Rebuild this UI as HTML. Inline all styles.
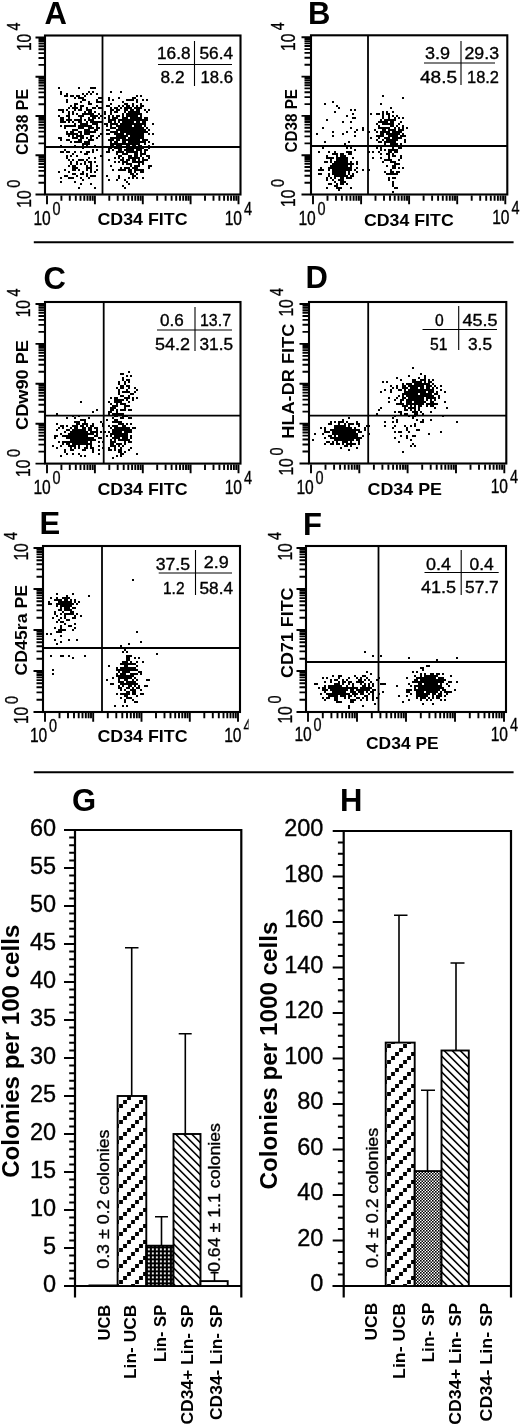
<!DOCTYPE html>
<html><head><meta charset="utf-8"><title>Figure</title>
<style>html,body{margin:0;padding:0;background:#fff}svg{display:block}</style>
</head><body>
<svg width="520" height="1427" viewBox="0 0 520 1427" font-family="Liberation Sans, sans-serif" fill="#000">
<rect width="520" height="1427" fill="#fff"/>
<defs>
<clipPath id="clipE"><rect x="240" y="700" width="8.6" height="29.6"/></clipPath>
<filter id="soft" x="0" y="0" width="100%" height="100%" filterUnits="userSpaceOnUse"><feGaussianBlur stdDeviation="0.35"/></filter>
<pattern id="p1" width="16" height="16" patternUnits="userSpaceOnUse"><rect width="16" height="16" fill="#fff"/><path d="M7.1 0.1h3.8v3.8h-3.8zM11.1 12.1h3.8v3.8h-3.8zM-0.9 8.1h3.8v3.8h-3.8zM15.1 8.1h3.8v3.8h-3.8zM3.1 4.1h3.8v3.8h-3.8z" fill="#000"/></pattern>
<pattern id="p2" width="8" height="8" patternUnits="userSpaceOnUse"><rect width="8" height="8" fill="#fff"/><path d="M-1 5.4L3 9.4M.6 -1L9 7.4" stroke="#000" stroke-width="1.6"/></pattern>
<pattern id="p3" x="3.9" y=".4" width="4" height="4" patternUnits="userSpaceOnUse"><rect width="4" height="4" fill="#000"/><rect width="1.9" height="1.9" fill="#fff"/></pattern>
<pattern id="p4" width="3" height="3" patternUnits="userSpaceOnUse"><rect width="3" height="3" fill="#fff"/><rect width="1.6" height="1.6" fill="#000"/><rect x="1.5" y="1.5" width="1.6" height="1.6" fill="#000"/></pattern>
</defs>
<g filter="url(#soft)">
<rect x="45" y="35.5" width="195.5" height="159.0" fill="none" stroke="#000" stroke-width="2.1"/>
<path d="M102.5 35.5L102.5 194.5" stroke="#000" stroke-width="1.8" fill="none"/>
<path d="M45 147L240.5 147" stroke="#000" stroke-width="1.8" fill="none"/>
<path d="M47.0 195.5v8.7M61.4 195.5v5.3M69.8 195.5v5.3M75.8 195.5v5.3M80.5 195.5v5.3M84.3 195.5v5.3M87.5 195.5v5.3M90.2 195.5v5.3M92.7 195.5v5.3M94.9 195.5v8.7M109.3 195.5v5.3M117.7 195.5v5.3M123.7 195.5v5.3M128.3 195.5v5.3M132.1 195.5v5.3M135.3 195.5v5.3M138.1 195.5v5.3M140.6 195.5v5.3M142.8 195.5v8.7M157.2 195.5v5.3M165.6 195.5v5.3M171.6 195.5v5.3M176.2 195.5v5.3M180.0 195.5v5.3M183.2 195.5v5.3M186.0 195.5v5.3M188.4 195.5v5.3M190.6 195.5v8.7M205.0 195.5v5.3M213.5 195.5v5.3M219.4 195.5v5.3M224.1 195.5v5.3M227.9 195.5v5.3M231.1 195.5v5.3M233.9 195.5v5.3M236.3 195.5v5.3M238.5 195.5v8.7" stroke="#000" stroke-width="1.9" fill="none"/>
<path d="M44.5 194.5h-9M44.5 182.7h-6M44.5 175.8h-6M44.5 170.9h-6M44.5 167.1h-6M44.5 164.0h-6M44.5 161.3h-6M44.5 159.1h-6M44.5 157.0h-6M44.5 155.2h-9M44.5 143.4h-6M44.5 136.5h-6M44.5 131.6h-6M44.5 127.8h-6M44.5 124.7h-6M44.5 122.1h-6M44.5 119.8h-6M44.5 117.8h-6M44.5 116.0h-9M44.5 104.2h-6M44.5 97.3h-6M44.5 92.4h-6M44.5 88.6h-6M44.5 85.5h-6M44.5 82.8h-6M44.5 80.6h-6M44.5 78.5h-6M44.5 76.8h-9M44.5 64.9h-6M44.5 58.0h-6M44.5 53.1h-6M44.5 49.3h-6M44.5 46.2h-6M44.5 43.6h-6M44.5 41.3h-6M44.5 39.3h-6M44.5 37.5h-9" stroke="#000" stroke-width="1.9" fill="none"/>
<text x="44.5" y="23.7" font-size="31" font-weight="700">A</text>
<text x="97.5" y="224.5" font-size="17" font-weight="700" textLength="90.0" lengthAdjust="spacingAndGlyphs">CD34 FITC</text>
<text transform="translate(33.4,225.0) scale(.8,1)" font-size="19.5" stroke="#000" stroke-width=".35">10</text>
<g><text transform="translate(52.4,215.0) scale(.78,1)" font-size="18.5" stroke="#000" stroke-width=".35">0</text></g>
<text transform="translate(224.7,224.6) scale(.8,1)" font-size="19.5" stroke="#000" stroke-width=".35">10</text>
<g><text transform="translate(243.9,214.6) scale(.78,1)" font-size="18.5" stroke="#000" stroke-width=".35">4</text></g>
<text transform="translate(27.5,155) rotate(-90)" font-size="17" font-weight="700" textLength="66" lengthAdjust="spacingAndGlyphs">CD38 PE</text>
<text transform="translate(30.6,207.7) rotate(-90) scale(.8,1)" font-size="19.5" stroke="#000" stroke-width=".35">10</text>
<text transform="translate(20.3,187.7) rotate(-90) scale(.78,1)" font-size="18.5" stroke="#000" stroke-width=".35">0</text>
<text transform="translate(30.6,51.1) rotate(-90) scale(.8,1)" font-size="19.5" stroke="#000" stroke-width=".35">10</text>
<text transform="translate(20.3,30.4) rotate(-90) scale(.78,1)" font-size="18.5" stroke="#000" stroke-width=".35">4</text>
<path d="M194.5 41L194.5 86" stroke="#000" stroke-width="1.1" fill="none"/>
<path d="M158 64.5L232 64.5" stroke="#000" stroke-width="1.1" fill="none"/>
<text x="157" y="58.8" font-size="16" stroke="#000" stroke-width="0.35" textLength="33.5" lengthAdjust="spacingAndGlyphs">16.8</text>
<text x="199.5" y="58.8" font-size="16" stroke="#000" stroke-width="0.35" textLength="33.5" lengthAdjust="spacingAndGlyphs">56.4</text>
<text x="160.5" y="82.5" font-size="16" stroke="#000" stroke-width="0.35" textLength="24.0" lengthAdjust="spacingAndGlyphs">8.2</text>
<text x="200.5" y="82.5" font-size="16" stroke="#000" stroke-width="0.35" textLength="32.5" lengthAdjust="spacingAndGlyphs">18.6</text>
<path d="M78 132h2M78 116h2M68 118h2M96 130h2M96 126h2M86 126h2M58 138h2M88 132h2M58 88h2M68 114h2M86 122h2M88 110h2M86 130h2M72 154h2M88 144h2M72 108h2M76 120h2M90 126h2M74 104h2M74 146h2M70 126h2M86 94h2M82 146h2M80 106h2M88 120h2M60 138h2M90 140h2M82 98h2M90 110h2M74 98h2M68 112h2M60 126h2M86 108h2M66 140h2M96 124h2M84 130h2M60 146h2M94 132h2M92 88h2M78 142h2M62 152h2M86 134h2M82 144h2M72 114h2M96 122h2M68 140h2M62 120h2M100 102h2M98 98h2M70 134h2M96 138h2M86 124h2M84 132h2M78 128h2M90 122h2M92 132h2M76 114h2M80 140h2M76 130h2M66 126h2M74 134h2M84 112h2M74 120h2M78 120h2M96 100h2M92 150h2M58 116h2M76 134h2M96 94h2M90 94h2M84 144h2M78 126h2M92 124h2M80 152h2M96 116h2M94 116h2M82 136h2M84 134h2M60 94h2M90 104h2M66 94h2M98 136h2M82 100h2M92 152h2M68 152h2M94 118h2M80 110h2M96 150h2M70 142h2M82 124h2M100 116h2M86 110h2M80 138h2M82 148h2M80 142h2M72 138h2M64 122h2M78 122h2M72 126h2M88 142h2M78 98h2M74 142h2M58 110h2M82 138h2M84 100h2M60 110h2M94 112h2M68 108h2M60 120h2M64 128h2M92 116h2M86 114h2M92 136h2M90 128h2M100 134h2M94 146h2M88 168h2M68 136h2M88 140h2M68 120h2M86 138h2M80 118h2M66 116h2M94 124h2M70 106h2M90 132h2M80 132h2M100 156h2M62 110h2M76 104h2M64 96h2M68 126h2M70 120h2M88 130h2M76 136h2M82 106h2M72 122h2M80 124h2M80 126h2M80 98h2M86 142h2M88 118h2M88 104h2M66 152h2M76 96h2M70 132h2M88 126h2M80 134h2M96 102h2M78 136h2M76 142h2M78 170h2M98 118h2M82 172h2M76 138h2M94 122h2M64 126h2M86 144h2M92 122h2M84 124h2M66 110h2M82 94h2M72 132h2M78 96h2M96 106h2M78 88h2M92 140h2M90 88h2M72 96h2M82 126h2M90 136h2M62 112h2M66 102h2M80 122h2M88 92h2M80 108h2M68 122h2M84 96h2M88 134h2M92 128h2M70 96h2M76 108h2M66 120h2M74 124h2M88 114h2M90 166h2M86 146h2M88 102h2M98 102h2M84 162h2M98 122h2M70 156h2M84 114h2M100 108h2M90 112h2M72 136h2M100 122h2M80 128h2M74 166h2M100 98h2M60 92h2M98 114h2M80 116h2M80 102h2M74 152h2M92 120h2M74 108h2M68 116h2M86 132h2M88 162h2M74 126h2M66 134h2M72 134h2M62 122h2M88 112h2M80 136h2M68 134h2M84 120h2M94 108h2M94 88h2M88 128h2M60 118h2M66 96h2M84 164h2M74 110h2M66 100h2M62 118h2M74 130h2M80 120h2M92 108h2M60 122h2M72 130h2M74 138h2M78 110h2M92 118h2M86 154h2M72 166h2M84 142h2M90 138h2M90 172h2M84 126h2M94 130h2M92 114h2M94 162h2M74 106h2M78 140h2M90 120h2M64 150h2M96 128h2M60 152h2M60 140h2M82 116h2M90 114h2M98 108h2M66 132h2M90 116h2M92 92h2M72 112h2M82 114h2M88 152h2M82 128h2M98 128h2M64 170h2M80 174h2M92 176h2M76 156h2M82 180h2M66 156h2M76 162h2M86 160h2M70 164h2M80 160h2M80 178h2M94 188h2M70 162h2M72 168h2M86 152h2M86 168h2M58 172h2M90 170h2M86 174h2M96 166h2M90 164h2M88 158h2M78 188h2M86 166h2M66 158h2M80 184h2M90 168h2M76 176h2M84 154h2M86 170h2M68 178h2M76 164h2M90 184h2M72 174h2M74 182h2M72 178h2M74 174h2M78 160h2M60 178h2M60 182h2M74 170h2M96 170h2M94 176h2M70 178h2M86 176h2M90 176h2M82 174h2M76 168h2M90 162h2M94 158h2M82 160h2M68 166h2M94 172h2M80 164h2M68 160h2M72 160h2M66 176h2M64 176h2M68 172h2M72 170h2M74 168h2M88 178h2M132 128h2M132 112h2M132 132h2M128 132h2M136 130h2M146 100h2M132 110h2M138 164h2M118 134h2M136 128h2M136 106h2M138 136h2M134 124h2M136 126h2M134 126h2M120 132h2M134 142h2M136 134h2M140 156h2M128 108h2M138 150h2M138 142h2M130 124h2M138 122h2M122 120h2M148 156h2M128 124h2M140 132h2M126 148h2M130 134h2M122 106h2M126 122h2M120 130h2M136 138h2M132 130h2M138 132h2M138 138h2M134 148h2M130 128h2M128 122h2M142 154h2M134 138h2M140 142h2M140 116h2M130 138h2M142 134h2M128 128h2M130 122h2M142 124h2M134 158h2M140 136h2M130 136h2M142 140h2M140 134h2M136 148h2M124 132h2M132 142h2M146 140h2M134 114h2M144 132h2M132 118h2M134 136h2M128 150h2M130 110h2M132 122h2M126 128h2M134 118h2M132 150h2M138 130h2M134 130h2M132 140h2M132 104h2M136 124h2M126 118h2M124 104h2M122 136h2M124 140h2M144 144h2M134 134h2M144 150h2M132 138h2M134 132h2M130 116h2M130 114h2M140 138h2M138 110h2M144 142h2M146 118h2M140 114h2M126 116h2M136 136h2M130 144h2M138 134h2M130 140h2M140 128h2M138 118h2M128 148h2M128 130h2M134 128h2M134 98h2M122 134h2M136 144h2M126 150h2M132 160h2M130 118h2M142 142h2M130 112h2M128 138h2M138 124h2M124 150h2M134 146h2M124 128h2M140 152h2M128 116h2M134 116h2M130 132h2M142 128h2M146 150h2M138 140h2M144 130h2M132 120h2M132 134h2M124 144h2M138 144h2M138 126h2M124 124h2M130 108h2M130 148h2M130 126h2M126 108h2M134 120h2M116 134h2M140 126h2M124 130h2M136 120h2M120 148h2M136 150h2M126 144h2M146 156h2M132 136h2M132 144h2M134 152h2M136 154h2M140 148h2M136 116h2M126 134h2M136 162h2M128 146h2M138 112h2M128 134h2M130 130h2M136 122h2M142 132h2M126 140h2M144 122h2M144 140h2M142 120h2M140 150h2M148 134h2M140 154h2M124 118h2M126 110h2M136 110h2M122 142h2M126 132h2M122 126h2M126 136h2M128 112h2M128 140h2M128 120h2M128 106h2M124 162h2M132 116h2M126 152h2M128 142h2M122 128h2M134 144h2M116 130h2M126 114h2M130 142h2M142 136h2M136 132h2M140 124h2M128 114h2M126 120h2M132 124h2M130 120h2M138 114h2M124 110h2M136 118h2M122 116h2M140 130h2M144 154h2M142 138h2M120 138h2M132 162h2M130 150h2M128 144h2M124 138h2M126 146h2M120 128h2M122 102h2M120 156h2M148 130h2M120 124h2M108 150h2M116 154h2M110 112h2M116 146h2M136 100h2M148 142h2M140 108h2M118 98h2M110 124h2M134 162h2M116 118h2M128 164h2M132 114h2M144 152h2M108 116h2M138 120h2M114 138h2M134 160h2M120 152h2M118 146h2M144 124h2M108 122h2M148 166h2M128 158h2M112 100h2M122 118h2M122 138h2M146 112h2M132 106h2M110 92h2M124 120h2M114 118h2M152 144h2M132 176h2M142 106h2M148 158h2M136 112h2M118 138h2M124 126h2M124 112h2M142 162h2M132 146h2M118 170h2M150 166h2M148 148h2M120 136h2M106 176h2M152 134h2M136 142h2M132 152h2M122 130h2M118 120h2M116 116h2M134 112h2M140 104h2M136 166h2M124 142h2M118 152h2M116 142h2M136 102h2M120 160h2M116 132h2M128 168h2M116 124h2M126 126h2M110 114h2M136 152h2M140 96h2M120 146h2M108 160h2M136 96h2M152 124h2M128 152h2M122 122h2M146 128h2M122 124h2M124 122h2M104 124h2M122 158h2M126 154h2M122 132h2M140 146h2M136 114h2M114 122h2M116 140h2M120 120h2M130 156h2M118 150h2M116 126h2M122 186h2M122 164h2M112 144h2M144 126h2M118 156h2M112 110h2M126 104h2M118 126h2M132 98h2M118 148h2M122 144h2M132 100h2M132 148h2M140 106h2M108 152h2M144 120h2M112 170h2M122 114h2M108 118h2M114 144h2M110 128h2M140 118h2M118 116h2M108 180h2M126 130h2M112 150h2M122 160h2M114 134h2M126 160h2M128 126h2M134 140h2M108 130h2M114 112h2M120 126h2M118 140h2M148 146h2M104 112h2M146 120h2M120 170h2M106 106h2M120 168h2M110 138h2M118 130h2M142 158h2M138 158h2M110 146h2M118 158h2M110 166h2M134 176h2M120 134h2M140 120h2M114 132h2M126 164h2M116 152h2M138 166h2M138 148h2M120 150h2M144 118h2M144 110h2M114 148h2M146 160h2M126 106h2M138 108h2M134 172h2M128 100h2M138 128h2M142 122h2M126 100h2M116 144h2M128 156h2M142 130h2M122 140h2M124 108h2M122 170h2M118 162h2M112 124h2M136 158h2M118 122h2M130 100h2M136 140h2M124 136h2M122 152h2M146 132h2M142 148h2M110 104h2M142 100h2M138 162h2M136 108h2M114 158h2M114 124h2M134 108h2M148 110h2M126 124h2M114 108h2M110 148h2M106 124h2M110 140h2M108 100h2M114 120h2M110 142h2M108 120h2M112 132h2M120 92h2M112 120h2M108 106h2M110 144h2M106 152h2M110 110h2M118 136h2M108 140h2M106 134h2M116 112h2M106 126h2M112 146h2M116 138h2M110 122h2M104 118h2M112 118h2M120 144h2M110 132h2M112 116h2M112 140h2M118 128h2M112 138h2M110 108h2M118 110h2M116 110h2M120 108h2M116 148h2M108 148h2M108 98h2M116 136h2M110 120h2M114 142h2M116 108h2M112 128h2M118 144h2M110 126h2M106 130h2M108 134h2M114 128h2M104 114h2M118 106h2M124 154h2M128 172h2M144 160h2M128 184h2M138 170h2M124 168h2M132 174h2M130 170h2M148 168h2M124 170h2M126 162h2M134 170h2M130 174h2M130 152h2M142 160h2M136 170h2M124 180h2M118 176h2M140 172h2M138 160h2M132 168h2M136 174h2M130 158h2M128 170h2M128 160h2M130 164h2M138 146h2M130 172h2M136 178h2M126 182h2M140 170h2M142 170h2M128 178h2M130 166h2M134 166h2M122 154h2M136 156h2M122 162h2M132 158h2M134 156h2M126 168h2M114 162h2M136 168h2M140 162h2M134 168h2M142 164h2M134 154h2M124 188h2M142 178h2M142 172h2M118 178h2M116 180h2M132 178h2" stroke="#000" stroke-width="2" fill="none"/>
<rect x="311" y="35.3" width="196.3" height="159.2" fill="none" stroke="#000" stroke-width="2.1"/>
<path d="M368 35.3L368 194.5" stroke="#000" stroke-width="1.8" fill="none"/>
<path d="M311 146L507.3 146" stroke="#000" stroke-width="1.8" fill="none"/>
<path d="M313.0 195.5v8.7M327.5 195.5v5.3M335.9 195.5v5.3M341.9 195.5v5.3M346.6 195.5v5.3M350.4 195.5v5.3M353.6 195.5v5.3M356.4 195.5v5.3M358.9 195.5v5.3M361.1 195.5v8.7M375.5 195.5v5.3M384.0 195.5v5.3M390.0 195.5v5.3M394.7 195.5v5.3M398.5 195.5v5.3M401.7 195.5v5.3M404.5 195.5v5.3M407.0 195.5v5.3M409.1 195.5v8.7M423.6 195.5v5.3M432.1 195.5v5.3M438.1 195.5v5.3M442.8 195.5v5.3M446.6 195.5v5.3M449.8 195.5v5.3M452.6 195.5v5.3M455.0 195.5v5.3M457.2 195.5v8.7M471.7 195.5v5.3M480.2 195.5v5.3M486.2 195.5v5.3M490.8 195.5v5.3M494.6 195.5v5.3M497.9 195.5v5.3M500.6 195.5v5.3M503.1 195.5v5.3M505.3 195.5v8.7" stroke="#000" stroke-width="1.9" fill="none"/>
<path d="M310.5 194.5h-9M310.5 182.7h-6M310.5 175.7h-6M310.5 170.8h-6M310.5 167.0h-6M310.5 163.9h-6M310.5 161.3h-6M310.5 159.0h-6M310.5 157.0h-6M310.5 155.2h-9M310.5 143.4h-6M310.5 136.4h-6M310.5 131.5h-6M310.5 127.7h-6M310.5 124.6h-6M310.5 122.0h-6M310.5 119.7h-6M310.5 117.7h-6M310.5 115.9h-9M310.5 104.1h-6M310.5 97.1h-6M310.5 92.2h-6M310.5 88.4h-6M310.5 85.3h-6M310.5 82.7h-6M310.5 80.4h-6M310.5 78.4h-6M310.5 76.6h-9M310.5 64.8h-6M310.5 57.8h-6M310.5 52.9h-6M310.5 49.1h-6M310.5 46.0h-6M310.5 43.4h-6M310.5 41.1h-6M310.5 39.1h-6M310.5 37.3h-9" stroke="#000" stroke-width="1.9" fill="none"/>
<text x="308" y="23.7" font-size="31" font-weight="700">B</text>
<text x="364" y="226" font-size="17" font-weight="700" textLength="89.69999999999999" lengthAdjust="spacingAndGlyphs">CD34 FITC</text>
<text transform="translate(298.4,224.5) scale(.8,1)" font-size="19.5" stroke="#000" stroke-width=".35">10</text>
<g><text transform="translate(317.4,214.5) scale(.78,1)" font-size="18.5" stroke="#000" stroke-width=".35">0</text></g>
<text transform="translate(492.2,224.4) scale(.8,1)" font-size="19.5" stroke="#000" stroke-width=".35">10</text>
<g><text transform="translate(511.4,214.4) scale(.78,1)" font-size="18.5" stroke="#000" stroke-width=".35">4</text></g>
<text transform="translate(296.5,152.5) rotate(-90)" font-size="17" font-weight="700" textLength="63.5" lengthAdjust="spacingAndGlyphs">CD38 PE</text>
<text transform="translate(294.6,207.0) rotate(-90) scale(.8,1)" font-size="19.5" stroke="#000" stroke-width=".35">10</text>
<text transform="translate(284.3,187.0) rotate(-90) scale(.78,1)" font-size="18.5" stroke="#000" stroke-width=".35">0</text>
<text transform="translate(294.6,50.9) rotate(-90) scale(.8,1)" font-size="19.5" stroke="#000" stroke-width=".35">10</text>
<text transform="translate(284.3,30.2) rotate(-90) scale(.78,1)" font-size="18.5" stroke="#000" stroke-width=".35">4</text>
<path d="M461 41L461 85" stroke="#000" stroke-width="1.1" fill="none"/>
<path d="M424 63L495 63" stroke="#000" stroke-width="1.1" fill="none"/>
<text x="425" y="58.8" font-size="16" stroke="#000" stroke-width="0.35" textLength="25" lengthAdjust="spacingAndGlyphs">3.9</text>
<text x="464.5" y="58.8" font-size="16" stroke="#000" stroke-width="0.35" textLength="34.5" lengthAdjust="spacingAndGlyphs">29.3</text>
<text x="420" y="82.5" font-size="16" stroke="#000" stroke-width="0.35" textLength="37" lengthAdjust="spacingAndGlyphs">48.5</text>
<text x="467" y="82.5" font-size="16" stroke="#000" stroke-width="0.35" textLength="32" lengthAdjust="spacingAndGlyphs">18.2</text>
<path d="M334 186h2M340 174h2M344 176h2M342 164h2M340 156h2M338 172h2M328 168h2M342 174h2M334 164h2M330 162h2M342 180h2M334 176h2M350 152h2M338 168h2M350 178h2M350 168h2M344 174h2M342 170h2M338 164h2M334 178h2M336 154h2M340 166h2M340 178h2M338 166h2M336 166h2M336 168h2M354 170h2M344 172h2M342 172h2M342 176h2M336 172h2M344 164h2M342 182h2M346 160h2M338 170h2M344 168h2M334 172h2M336 158h2M332 164h2M334 152h2M344 160h2M336 170h2M328 174h2M330 158h2M338 176h2M340 170h2M344 158h2M338 162h2M336 160h2M334 182h2M348 168h2M342 162h2M326 156h2M340 176h2M332 166h2M334 162h2M338 180h2M332 168h2M334 166h2M340 162h2M332 170h2M344 156h2M332 174h2M340 164h2M340 160h2M326 180h2M338 160h2M330 168h2M336 162h2M342 168h2M332 158h2M340 158h2M334 170h2M332 172h2M342 166h2M346 166h2M334 174h2M346 162h2M346 168h2M334 168h2M328 170h2M330 166h2M348 172h2M340 168h2M352 174h2M336 156h2M356 168h2M368 170h2M336 176h2M346 158h2M346 170h2M350 154h2M344 162h2M340 172h2M350 162h2M336 186h2M336 184h2M318 174h2M320 174h2M342 156h2M332 154h2M338 174h2M344 144h2M328 176h2M338 190h2M356 172h2M346 164h2M348 142h2M330 178h2M340 180h2M348 174h2M338 158h2M336 164h2M368 152h2M350 164h2M320 170h2M330 160h2M344 170h2M336 188h2M318 152h2M326 188h2M340 184h2M346 184h2M324 162h2M350 170h2M350 176h2M348 178h2M350 188h2M330 184h2M346 176h2M346 178h2M342 178h2M340 188h2M320 168h2M362 170h2M322 170h2M326 162h2M342 184h2M348 170h2M326 158h2M340 182h2M328 158h2M342 160h2M342 158h2M348 164h2M342 146h2M340 154h2M344 182h2M348 154h2M352 176h2M352 164h2M350 148h2M352 158h2M348 152h2M346 152h2M350 166h2M344 166h2M356 164h2M338 188h2M318 170h2M334 154h2M326 178h2M342 154h2M356 162h2M328 152h2M332 180h2M336 174h2M328 184h2M350 128h2M338 108h2M332 102h2M354 136h2M362 128h2M346 132h2M352 118h2M346 148h2M324 104h2M332 132h2M354 118h2M350 122h2M346 116h2M342 122h2M354 150h2M322 128h2M342 134h2M354 132h2M350 110h2M324 142h2M354 110h2M356 130h2M316 134h2M332 136h2M334 112h2M326 120h2M352 114h2M322 148h2M362 130h2M336 106h2M378 138h2M398 124h2M388 130h2M388 138h2M402 128h2M394 142h2M388 132h2M380 142h2M386 128h2M390 126h2M382 130h2M398 132h2M392 120h2M376 148h2M386 120h2M378 126h2M390 124h2M392 130h2M388 128h2M388 136h2M388 142h2M406 128h2M392 140h2M394 130h2M386 142h2M392 138h2M384 138h2M394 132h2M394 152h2M382 122h2M390 122h2M380 128h2M380 148h2M384 132h2M390 130h2M392 122h2M380 150h2M388 140h2M396 138h2M390 120h2M378 142h2M394 138h2M378 114h2M398 128h2M386 140h2M392 126h2M394 150h2M382 116h2M396 136h2M376 132h2M384 122h2M382 140h2M388 150h2M392 116h2M394 144h2M400 122h2M388 116h2M382 118h2M396 144h2M386 122h2M380 122h2M390 136h2M382 112h2M398 134h2M378 128h2M400 138h2M384 128h2M384 144h2M392 148h2M392 150h2M400 136h2M396 134h2M386 134h2M380 132h2M390 150h2M400 132h2M392 132h2M380 136h2M388 124h2M386 138h2M392 146h2M382 132h2M390 140h2M400 130h2M402 126h2M388 118h2M394 136h2M402 134h2M388 120h2M392 134h2M392 124h2M392 136h2M396 146h2M370 138h2M378 136h2M382 128h2M404 136h2M386 112h2M396 132h2M394 118h2M390 134h2M390 144h2M388 134h2M394 120h2M396 126h2M380 120h2M380 134h2M394 128h2M396 140h2M382 134h2M384 120h2M390 146h2M386 124h2M398 148h2M390 160h2M390 142h2M392 112h2M378 122h2M392 142h2M390 174h2M390 162h2M398 130h2M394 134h2M402 136h2M394 166h2M394 156h2M400 156h2M402 118h2M404 140h2M374 130h2M376 140h2M376 124h2M382 136h2M396 116h2M384 142h2M398 138h2M386 146h2M384 150h2M370 114h2M392 144h2M378 152h2M376 114h2M386 114h2M382 114h2M372 152h2M396 172h2M388 152h2M396 150h2M402 130h2M402 98h2M388 156h2M382 162h2M390 108h2M400 158h2M384 160h2M380 154h2M376 136h2M368 132h2M372 158h2M380 104h2M384 172h2M394 140h2M382 96h2M392 154h2M388 114h2M400 144h2M390 152h2M384 146h2M396 152h2M386 166h2M386 154h2M384 124h2M398 118h2M384 130h2M382 124h2M386 132h2M388 146h2M404 142h2M402 168h2M380 158h2M398 160h2M388 154h2M390 170h2M392 192h2M392 182h2M392 162h2M394 178h2M388 178h2M388 160h2M392 168h2M392 172h2M390 172h2M386 174h2M394 174h2M388 180h2M398 164h2M400 148h2M392 178h2M394 164h2M396 174h2M396 164h2M392 166h2M388 174h2M394 188h2M398 168h2M388 158h2M398 172h2M392 156h2M392 184h2M386 160h2M396 188h2M394 162h2M392 186h2M394 168h2M392 174h2" stroke="#000" stroke-width="2" fill="none"/>
<rect x="45" y="302" width="195.5" height="161.60000000000002" fill="none" stroke="#000" stroke-width="2.1"/>
<path d="M103.7 302L103.7 463.6" stroke="#000" stroke-width="1.8" fill="none"/>
<path d="M45 415.7L240.5 415.7" stroke="#000" stroke-width="1.8" fill="none"/>
<path d="M47.0 464.6v8.7M61.4 464.6v5.3M69.8 464.6v5.3M75.8 464.6v5.3M80.5 464.6v5.3M84.3 464.6v5.3M87.5 464.6v5.3M90.2 464.6v5.3M92.7 464.6v5.3M94.9 464.6v8.7M109.3 464.6v5.3M117.7 464.6v5.3M123.7 464.6v5.3M128.3 464.6v5.3M132.1 464.6v5.3M135.3 464.6v5.3M138.1 464.6v5.3M140.6 464.6v5.3M142.8 464.6v8.7M157.2 464.6v5.3M165.6 464.6v5.3M171.6 464.6v5.3M176.2 464.6v5.3M180.0 464.6v5.3M183.2 464.6v5.3M186.0 464.6v5.3M188.4 464.6v5.3M190.6 464.6v8.7M205.0 464.6v5.3M213.5 464.6v5.3M219.4 464.6v5.3M224.1 464.6v5.3M227.9 464.6v5.3M231.1 464.6v5.3M233.9 464.6v5.3M236.3 464.6v5.3M238.5 464.6v8.7" stroke="#000" stroke-width="1.9" fill="none"/>
<path d="M44.5 463.6h-9M44.5 451.6h-6M44.5 444.6h-6M44.5 439.6h-6M44.5 435.7h-6M44.5 432.6h-6M44.5 429.9h-6M44.5 427.6h-6M44.5 425.5h-6M44.5 423.7h-9M44.5 411.7h-6M44.5 404.7h-6M44.5 399.7h-6M44.5 395.8h-6M44.5 392.7h-6M44.5 390.0h-6M44.5 387.7h-6M44.5 385.6h-6M44.5 383.8h-9M44.5 371.8h-6M44.5 364.8h-6M44.5 359.8h-6M44.5 355.9h-6M44.5 352.8h-6M44.5 350.1h-6M44.5 347.8h-6M44.5 345.7h-6M44.5 343.9h-9M44.5 331.9h-6M44.5 324.9h-6M44.5 319.9h-6M44.5 316.0h-6M44.5 312.9h-6M44.5 310.2h-6M44.5 307.9h-6M44.5 305.8h-6M44.5 304.0h-9" stroke="#000" stroke-width="1.9" fill="none"/>
<text x="43.5" y="288.8" font-size="31" font-weight="700">C</text>
<text x="97.5" y="494.5" font-size="17" font-weight="700" textLength="90.0" lengthAdjust="spacingAndGlyphs">CD34 FITC</text>
<text transform="translate(33.4,494.0) scale(.8,1)" font-size="19.5" stroke="#000" stroke-width=".35">10</text>
<g><text transform="translate(52.4,484.0) scale(.78,1)" font-size="18.5" stroke="#000" stroke-width=".35">0</text></g>
<text transform="translate(224.7,493.6) scale(.8,1)" font-size="19.5" stroke="#000" stroke-width=".35">10</text>
<g><text transform="translate(243.9,483.6) scale(.78,1)" font-size="18.5" stroke="#000" stroke-width=".35">4</text></g>
<text transform="translate(27.5,430) rotate(-90)" font-size="17" font-weight="700" textLength="90" lengthAdjust="spacingAndGlyphs">CDw90 PE</text>
<text transform="translate(30.1,476.9) rotate(-90) scale(.8,1)" font-size="19.5" stroke="#000" stroke-width=".35">10</text>
<text transform="translate(19.8,456.9) rotate(-90) scale(.78,1)" font-size="18.5" stroke="#000" stroke-width=".35">0</text>
<text transform="translate(29.9,317.3) rotate(-90) scale(.8,1)" font-size="19.5" stroke="#000" stroke-width=".35">10</text>
<text transform="translate(19.6,296.6) rotate(-90) scale(.78,1)" font-size="18.5" stroke="#000" stroke-width=".35">4</text>
<path d="M195 307L195 351" stroke="#000" stroke-width="1.1" fill="none"/>
<path d="M157 330L232 330" stroke="#000" stroke-width="1.1" fill="none"/>
<text x="160" y="325.7" font-size="16" stroke="#000" stroke-width="0.35" textLength="23.7" lengthAdjust="spacingAndGlyphs">0.6</text>
<text x="200" y="325.7" font-size="16" stroke="#000" stroke-width="0.35" textLength="31" lengthAdjust="spacingAndGlyphs">13.7</text>
<text x="155" y="350" font-size="16" stroke="#000" stroke-width="0.35" textLength="35" lengthAdjust="spacingAndGlyphs">54.2</text>
<text x="199.5" y="350" font-size="16" stroke="#000" stroke-width="0.35" textLength="33.5" lengthAdjust="spacingAndGlyphs">31.5</text>
<path d="M76 438h2M82 444h2M68 430h2M72 440h2M92 438h2M80 442h2M66 436h2M62 436h2M76 434h2M80 432h2M86 436h2M82 450h2M76 442h2M74 442h2M84 436h2M84 444h2M78 442h2M70 432h2M82 440h2M90 446h2M80 438h2M72 434h2M80 434h2M80 440h2M74 432h2M70 442h2M74 426h2M84 434h2M90 440h2M80 436h2M78 440h2M90 434h2M74 440h2M84 428h2M76 430h2M82 438h2M82 424h2M82 436h2M90 442h2M78 432h2M70 434h2M88 440h2M74 428h2M76 428h2M88 434h2M68 444h2M82 434h2M78 430h2M86 440h2M86 434h2M78 436h2M78 434h2M70 446h2M80 426h2M74 430h2M74 422h2M82 430h2M86 426h2M78 444h2M88 444h2M74 436h2M72 430h2M78 446h2M76 436h2M86 432h2M82 426h2M76 432h2M88 438h2M70 428h2M76 422h2M76 444h2M86 438h2M90 432h2M84 440h2M84 438h2M76 426h2M90 430h2M72 438h2M78 438h2M80 430h2M90 444h2M82 442h2M74 438h2M88 428h2M66 438h2M70 438h2M84 450h2M86 442h2M76 440h2M82 432h2M62 444h2M90 428h2M98 438h2M62 426h2M92 424h2M72 442h2M84 456h2M66 444h2M94 428h2M80 456h2M92 412h2M78 422h2M84 432h2M70 436h2M84 430h2M96 432h2M72 426h2M102 442h2M68 434h2M70 450h2M84 420h2M70 440h2M88 418h2M74 448h2M72 454h2M62 428h2M68 436h2M60 446h2M74 444h2M96 434h2M98 450h2M94 440h2M64 442h2M60 434h2M106 420h2M74 418h2M72 450h2M86 446h2M64 436h2M98 454h2M94 436h2M92 432h2M82 420h2M64 452h2M56 436h2M102 424h2M54 436h2M66 426h2M66 442h2M80 444h2M68 442h2M90 438h2M76 424h2M60 426h2M84 448h2M78 454h2M92 434h2M84 424h2M56 414h2M86 444h2M84 442h2M74 446h2M52 446h2M54 438h2M74 434h2M72 416h2M92 450h2M90 426h2M64 432h2M78 416h2M66 430h2M66 454h2M96 428h2M68 438h2M64 450h2M72 446h2M94 432h2M72 444h2M72 436h2M90 448h2M98 442h2M78 424h2M102 426h2M56 430h2M102 448h2M80 420h2M92 426h2M56 424h2M86 448h2M66 418h2M60 456h2M116 432h2M70 448h2M92 440h2M62 442h2M100 432h2M68 446h2M100 438h2M82 428h2M56 448h2M104 432h2M72 432h2M84 422h2M96 436h2M78 448h2M92 452h2M96 430h2M92 448h2M58 428h2M88 430h2M116 426h2M86 424h2M58 442h2M110 442h2M116 434h2M118 430h2M118 432h2M126 432h2M116 428h2M120 444h2M124 434h2M128 440h2M120 432h2M114 434h2M118 422h2M112 446h2M120 436h2M120 430h2M122 440h2M118 436h2M124 430h2M120 428h2M122 430h2M124 428h2M128 430h2M114 428h2M122 428h2M128 442h2M122 424h2M118 428h2M110 436h2M130 430h2M124 442h2M114 430h2M118 440h2M112 430h2M116 430h2M132 428h2M124 440h2M124 432h2M114 432h2M122 434h2M122 436h2M114 426h2M126 430h2M124 426h2M114 440h2M114 450h2M120 450h2M120 434h2M114 420h2M124 436h2M110 440h2M112 426h2M124 444h2M118 446h2M126 416h2M126 440h2M134 428h2M118 424h2M112 444h2M114 438h2M116 436h2M124 438h2M114 422h2M114 436h2M126 428h2M126 438h2M108 432h2M118 438h2M120 440h2M112 414h2M116 438h2M112 438h2M130 432h2M128 428h2M100 422h2M130 438h2M108 426h2M118 434h2M130 442h2M126 424h2M128 450h2M110 444h2M110 450h2M126 434h2M130 424h2M122 446h2M112 434h2M112 442h2M120 418h2M120 422h2M120 456h2M118 444h2M116 416h2M106 436h2M120 452h2M112 422h2M128 432h2M110 412h2M122 418h2M116 414h2M128 418h2M112 458h2M116 456h2M120 424h2M130 448h2M126 436h2M110 446h2M114 448h2M130 436h2M124 452h2M110 428h2M114 446h2M122 438h2M116 444h2M108 450h2M136 454h2M120 454h2M120 448h2M122 416h2M118 452h2M112 432h2M118 450h2M98 446h2M114 442h2M116 422h2M110 434h2M108 448h2M122 454h2M124 416h2M112 406h2M114 416h2M124 406h2M116 410h2M114 398h2M112 410h2M108 412h2M112 418h2M122 410h2M126 406h2M114 400h2M114 408h2M116 402h2M116 404h2M112 408h2M114 406h2M110 410h2M122 414h2M110 398h2M108 414h2M108 402h2M114 414h2M128 406h2M116 406h2M132 400h2M118 402h2M120 404h2M122 400h2M130 410h2M116 398h2M122 404h2M124 410h2M120 410h2M120 414h2M128 398h2M124 408h2M120 402h2M128 402h2M130 418h2M110 404h2M116 400h2M120 400h2M122 426h2M116 420h2M118 414h2M110 408h2M128 410h2M118 392h2M116 412h2M114 402h2M124 404h2M116 388h2M128 392h2M122 380h2M120 396h2M126 398h2M134 388h2M118 384h2M124 384h2M126 380h2M130 376h2M120 374h2M118 394h2M128 386h2M130 394h2M122 388h2M122 392h2M120 386h2M136 390h2M126 390h2M126 376h2M122 386h2M124 382h2M118 382h2M122 396h2M132 394h2M132 398h2M126 386h2M126 392h2M124 392h2M124 398h2M118 400h2M122 374h2M128 388h2M134 392h2M136 398h2M120 388h2M128 380h2M128 396h2M128 382h2M122 378h2M118 390h2M126 400h2M80 402h2M96 410h2M128 372h2" stroke="#000" stroke-width="2" fill="none"/>
<rect x="309" y="302" width="197.3" height="161.5" fill="none" stroke="#000" stroke-width="2.1"/>
<path d="M368.2 302L368.2 463.5" stroke="#000" stroke-width="1.8" fill="none"/>
<path d="M309 415.7L506.3 415.7" stroke="#000" stroke-width="1.8" fill="none"/>
<path d="M311.0 464.5v8.7M325.5 464.5v5.3M334.1 464.5v5.3M340.1 464.5v5.3M344.8 464.5v5.3M348.6 464.5v5.3M351.8 464.5v5.3M354.6 464.5v5.3M357.1 464.5v5.3M359.3 464.5v8.7M373.9 464.5v5.3M382.4 464.5v5.3M388.4 464.5v5.3M393.1 464.5v5.3M396.9 464.5v5.3M400.2 464.5v5.3M403.0 464.5v5.3M405.4 464.5v5.3M407.6 464.5v8.7M422.2 464.5v5.3M430.7 464.5v5.3M436.7 464.5v5.3M441.4 464.5v5.3M445.3 464.5v5.3M448.5 464.5v5.3M451.3 464.5v5.3M453.8 464.5v5.3M456.0 464.5v8.7M470.5 464.5v5.3M479.0 464.5v5.3M485.1 464.5v5.3M489.8 464.5v5.3M493.6 464.5v5.3M496.8 464.5v5.3M499.6 464.5v5.3M502.1 464.5v5.3M504.3 464.5v8.7" stroke="#000" stroke-width="1.9" fill="none"/>
<path d="M308.5 463.5h-9M308.5 451.5h-6M308.5 444.5h-6M308.5 439.5h-6M308.5 435.6h-6M308.5 432.5h-6M308.5 429.8h-6M308.5 427.5h-6M308.5 425.4h-6M308.5 423.6h-9M308.5 411.6h-6M308.5 404.6h-6M308.5 399.6h-6M308.5 395.8h-6M308.5 392.6h-6M308.5 389.9h-6M308.5 387.6h-6M308.5 385.6h-6M308.5 383.8h-9M308.5 371.7h-6M308.5 364.7h-6M308.5 359.7h-6M308.5 355.9h-6M308.5 352.7h-6M308.5 350.1h-6M308.5 347.7h-6M308.5 345.7h-6M308.5 343.9h-9M308.5 331.9h-6M308.5 324.8h-6M308.5 319.9h-6M308.5 316.0h-6M308.5 312.8h-6M308.5 310.2h-6M308.5 307.9h-6M308.5 305.8h-6M308.5 304.0h-9" stroke="#000" stroke-width="1.9" fill="none"/>
<text x="305.5" y="288" font-size="31" font-weight="700">D</text>
<text x="367.5" y="494.5" font-size="17" font-weight="700" textLength="74.5" lengthAdjust="spacingAndGlyphs">CD34 PE</text>
<text transform="translate(296.4,493.5) scale(.8,1)" font-size="19.5" stroke="#000" stroke-width=".35">10</text>
<g><text transform="translate(315.4,483.5) scale(.78,1)" font-size="18.5" stroke="#000" stroke-width=".35">0</text></g>
<text transform="translate(490.7,492.6) scale(.8,1)" font-size="19.5" stroke="#000" stroke-width=".35">10</text>
<g><text transform="translate(509.9,482.6) scale(.78,1)" font-size="18.5" stroke="#000" stroke-width=".35">4</text></g>
<text transform="translate(294,438.7) rotate(-90)" font-size="17" font-weight="700" textLength="115.0" lengthAdjust="spacingAndGlyphs">HLA-DR FITC</text>
<text transform="translate(293.4,475.6) rotate(-90) scale(.8,1)" font-size="19.5" stroke="#000" stroke-width=".35">10</text>
<text transform="translate(283.1,455.6) rotate(-90) scale(.78,1)" font-size="18.5" stroke="#000" stroke-width=".35">0</text>
<text transform="translate(293.2,316.6) rotate(-90) scale(.8,1)" font-size="19.5" stroke="#000" stroke-width=".35">10</text>
<text transform="translate(282.9,295.9) rotate(-90) scale(.78,1)" font-size="18.5" stroke="#000" stroke-width=".35">4</text>
<path d="M458.7 306L458.7 350" stroke="#000" stroke-width="1.1" fill="none"/>
<path d="M422.5 329.5L497 329.5" stroke="#000" stroke-width="1.1" fill="none"/>
<text x="435" y="325.7" font-size="16" stroke="#000" stroke-width="0.35" textLength="8.7" lengthAdjust="spacingAndGlyphs">0</text>
<text x="462.5" y="325.7" font-size="16" stroke="#000" stroke-width="0.35" textLength="35.0" lengthAdjust="spacingAndGlyphs">45.5</text>
<text x="430" y="349.5" font-size="16" stroke="#000" stroke-width="0.35" textLength="17.5" lengthAdjust="spacingAndGlyphs">51</text>
<text x="468" y="349.5" font-size="16" stroke="#000" stroke-width="0.35" textLength="24" lengthAdjust="spacingAndGlyphs">3.5</text>
<path d="M334 440h2M346 432h2M338 428h2M348 428h2M348 436h2M342 426h2M346 440h2M350 434h2M340 438h2M342 436h2M342 430h2M346 430h2M332 430h2M352 438h2M358 438h2M354 434h2M338 436h2M342 434h2M338 432h2M350 432h2M340 434h2M336 426h2M336 438h2M344 436h2M348 430h2M334 436h2M356 430h2M344 438h2M330 436h2M342 438h2M344 432h2M340 440h2M350 436h2M348 434h2M344 434h2M340 432h2M346 428h2M344 430h2M334 428h2M346 434h2M340 428h2M342 440h2M354 438h2M334 432h2M340 436h2M358 432h2M360 432h2M344 442h2M354 432h2M356 438h2M346 436h2M334 434h2M352 436h2M338 434h2M340 426h2M340 430h2M336 430h2M350 444h2M352 432h2M344 426h2M348 424h2M350 428h2M350 438h2M346 442h2M338 440h2M356 434h2M348 432h2M338 430h2M352 440h2M348 426h2M348 438h2M348 440h2M334 430h2M354 430h2M340 422h2M338 424h2M364 428h2M352 434h2M330 438h2M334 438h2M338 422h2M342 432h2M358 424h2M342 442h2M350 424h2M352 430h2M336 434h2M342 422h2M330 424h2M344 440h2M346 444h2M326 432h2M336 442h2M364 430h2M332 434h2M330 444h2M350 442h2M348 418h2M314 434h2M354 444h2M338 426h2M358 442h2M352 424h2M348 450h2M368 434h2M346 422h2M328 424h2M356 422h2M336 444h2M334 422h2M358 444h2M350 430h2M344 428h2M360 438h2M358 440h2M330 422h2M332 438h2M354 436h2M344 446h2M324 432h2M338 438h2M354 428h2M368 426h2M328 436h2M322 434h2M350 440h2M326 442h2M356 440h2M342 420h2M366 426h2M358 430h2M356 424h2M328 442h2M348 444h2M350 446h2M320 428h2M336 440h2M356 448h2M330 430h2M312 440h2M336 432h2M332 444h2M328 432h2M334 426h2M324 444h2M356 436h2M362 436h2M346 438h2M336 428h2M346 446h2M358 426h2M342 428h2M338 444h2M332 442h2M324 428h2M332 432h2M324 430h2M342 444h2M344 424h2M324 438h2M352 444h2M340 448h2M416 384h2M412 392h2M436 388h2M424 394h2M414 398h2M402 400h2M432 396h2M416 396h2M422 390h2M418 398h2M414 396h2M420 398h2M410 390h2M414 402h2M418 382h2M408 408h2M420 386h2M410 394h2M428 404h2M414 392h2M432 388h2M430 396h2M418 402h2M420 388h2M406 394h2M420 404h2M396 404h2M422 404h2M424 396h2M420 396h2M412 394h2M418 390h2M406 384h2M418 386h2M424 392h2M400 404h2M406 410h2M422 392h2M398 390h2M420 382h2M420 394h2M420 384h2M412 404h2M406 400h2M434 398h2M406 402h2M402 396h2M426 396h2M430 400h2M414 388h2M436 392h2M414 384h2M416 394h2M424 390h2M404 386h2M422 394h2M430 394h2M426 388h2M400 402h2M426 394h2M444 402h2M432 404h2M424 384h2M428 396h2M408 394h2M422 400h2M422 388h2M416 400h2M406 396h2M402 388h2M416 398h2M426 390h2M426 386h2M416 382h2M420 402h2M406 388h2M420 400h2M424 382h2M414 382h2M408 384h2M428 390h2M412 386h2M404 394h2M410 398h2M408 398h2M412 400h2M410 396h2M418 396h2M430 382h2M428 386h2M418 400h2M412 382h2M418 406h2M428 384h2M426 400h2M430 392h2M430 398h2M412 388h2M432 384h2M418 410h2M416 390h2M410 392h2M404 398h2M408 400h2M412 390h2M414 404h2M416 404h2M414 406h2M400 400h2M414 400h2M420 380h2M416 414h2M406 392h2M412 398h2M410 402h2M408 396h2M410 404h2M414 386h2M422 396h2M420 406h2M412 380h2M416 402h2M422 386h2M412 396h2M420 392h2M424 376h2M410 386h2M436 404h2M408 386h2M404 390h2M432 398h2M424 402h2M412 408h2M410 400h2M418 392h2M428 382h2M422 398h2M430 402h2M414 394h2M422 380h2M418 384h2M426 404h2M402 398h2M426 384h2M414 408h2M408 392h2M432 402h2M422 384h2M404 392h2M422 402h2M428 388h2M414 412h2M406 404h2M434 394h2M420 390h2M428 394h2M426 398h2M430 386h2M404 410h2M430 390h2M432 392h2M432 380h2M412 412h2M406 406h2M434 408h2M400 414h2M430 420h2M396 386h2M412 368h2M384 422h2M384 390h2M390 386h2M440 390h2M414 414h2M428 398h2M404 406h2M416 412h2M438 396h2M394 400h2M444 392h2M380 392h2M392 388h2M422 414h2M414 390h2M386 382h2M410 406h2M430 404h2M388 402h2M432 406h2M410 388h2M426 406h2M396 398h2M390 390h2M402 384h2M428 392h2M400 380h2M418 404h2M432 390h2M404 388h2M404 414h2M410 410h2M402 394h2M380 408h2M440 386h2M414 380h2M408 390h2M412 418h2M408 404h2M446 408h2M434 386h2M430 406h2M424 380h2M416 392h2M428 380h2M418 378h2M382 382h2M420 374h2M416 388h2M410 384h2M416 386h2M398 404h2M408 376h2M406 414h2M402 404h2M434 400h2M420 412h2M418 408h2M430 412h2M396 378h2M410 408h2M388 398h2M400 390h2M396 388h2M436 394h2M408 402h2M438 398h2M398 396h2M402 386h2M434 404h2M424 378h2M394 412h2M414 410h2M390 392h2M408 432h2M418 430h2M416 430h2M394 416h2M414 426h2M392 418h2M428 434h2M410 440h2M396 422h2M420 422h2M394 432h2M404 408h2M442 416h2M408 416h2M396 420h2M410 446h2M412 444h2M394 426h2M402 406h2M456 422h2M412 416h2M400 412h2M422 420h2M406 428h2M392 428h2M406 430h2M404 426h2M414 436h2M400 436h2M410 426h2M376 414h2M406 436h2M398 442h2M384 426h2M412 436h2M398 432h2M422 422h2M378 410h2M398 412h2M414 416h2M440 432h2M392 422h2M394 438h2M402 452h2M400 432h2M416 420h2M406 438h2M414 424h2M414 446h2" stroke="#000" stroke-width="2" fill="none"/>
<rect x="43" y="546" width="197" height="166" fill="none" stroke="#000" stroke-width="2.1"/>
<path d="M102 546L102 712" stroke="#000" stroke-width="1.8" fill="none"/>
<path d="M43 648L240 648" stroke="#000" stroke-width="1.8" fill="none"/>
<path d="M45.0 713v8.7M59.5 713v5.3M68.0 713v5.3M74.0 713v5.3M78.7 713v5.3M82.5 713v5.3M85.8 713v5.3M88.6 713v5.3M91.0 713v5.3M93.2 713v8.7M107.8 713v5.3M116.3 713v5.3M122.3 713v5.3M127.0 713v5.3M130.8 713v5.3M134.0 713v5.3M136.8 713v5.3M139.3 713v5.3M141.5 713v8.7M156.0 713v5.3M164.5 713v5.3M170.5 713v5.3M175.2 713v5.3M179.0 713v5.3M182.3 713v5.3M185.1 713v5.3M187.5 713v5.3M189.8 713v8.7M204.3 713v5.3M212.8 713v5.3M218.8 713v5.3M223.5 713v5.3M227.3 713v5.3M230.5 713v5.3M233.3 713v5.3M235.8 713v5.3M238.0 713v8.7" stroke="#000" stroke-width="1.9" fill="none"/>
<path d="M42.5 712.0h-9M42.5 699.7h-6M42.5 692.4h-6M42.5 687.3h-6M42.5 683.3h-6M42.5 680.1h-6M42.5 677.4h-6M42.5 675.0h-6M42.5 672.9h-6M42.5 671.0h-9M42.5 658.7h-6M42.5 651.4h-6M42.5 646.3h-6M42.5 642.3h-6M42.5 639.1h-6M42.5 636.4h-6M42.5 634.0h-6M42.5 631.9h-6M42.5 630.0h-9M42.5 617.7h-6M42.5 610.4h-6M42.5 605.3h-6M42.5 601.3h-6M42.5 598.1h-6M42.5 595.4h-6M42.5 593.0h-6M42.5 590.9h-6M42.5 589.0h-9M42.5 576.7h-6M42.5 569.4h-6M42.5 564.3h-6M42.5 560.3h-6M42.5 557.1h-6M42.5 554.4h-6M42.5 552.0h-6M42.5 549.9h-6M42.5 548.0h-9" stroke="#000" stroke-width="1.9" fill="none"/>
<text x="39.5" y="534" font-size="31" font-weight="700">E</text>
<text x="97.5" y="742" font-size="17" font-weight="700" textLength="90.0" lengthAdjust="spacingAndGlyphs">CD34 FITC</text>
<text transform="translate(29.9,742.0) scale(.8,1)" font-size="19.5" stroke="#000" stroke-width=".35">10</text>
<g><text transform="translate(48.9,732.0) scale(.78,1)" font-size="18.5" stroke="#000" stroke-width=".35">0</text></g>
<text transform="translate(224.2,741.6) scale(.8,1)" font-size="19.5" stroke="#000" stroke-width=".35">10</text>
<g clip-path="url(#clipE)"><text transform="translate(243.4,731.6) scale(.78,1)" font-size="18.5" stroke="#000" stroke-width=".35">4</text></g>
<text transform="translate(26.5,675.5) rotate(-90)" font-size="17" font-weight="700" textLength="90.5" lengthAdjust="spacingAndGlyphs">CD45ra PE</text>
<text transform="translate(28.1,724.1) rotate(-90) scale(.8,1)" font-size="19.5" stroke="#000" stroke-width=".35">10</text>
<text transform="translate(17.8,704.1) rotate(-90) scale(.78,1)" font-size="18.5" stroke="#000" stroke-width=".35">0</text>
<text transform="translate(27.6,560.6) rotate(-90) scale(.8,1)" font-size="19.5" stroke="#000" stroke-width=".35">10</text>
<text transform="translate(17.3,539.9) rotate(-90) scale(.78,1)" font-size="18.5" stroke="#000" stroke-width=".35">4</text>
<path d="M195.5 550L195.5 595" stroke="#000" stroke-width="1.1" fill="none"/>
<path d="M158.7 573L232 573" stroke="#000" stroke-width="1.1" fill="none"/>
<text x="155.7" y="569.5" font-size="16" stroke="#000" stroke-width="0.35" textLength="34.3" lengthAdjust="spacingAndGlyphs">37.5</text>
<text x="203.7" y="567.5" font-size="16" stroke="#000" stroke-width="0.35" textLength="25.0" lengthAdjust="spacingAndGlyphs">2.9</text>
<text x="163" y="593.7" font-size="16" stroke="#000" stroke-width="0.35" textLength="21.5" lengthAdjust="spacingAndGlyphs">1.2</text>
<text x="199.5" y="593.7" font-size="16" stroke="#000" stroke-width="0.35" textLength="33.5" lengthAdjust="spacingAndGlyphs">58.4</text>
<path d="M68 608h2M66 596h2M64 602h2M68 602h2M66 600h2M64 608h2M62 606h2M70 614h2M56 600h2M68 610h2M64 618h2M64 598h2M56 598h2M70 602h2M74 608h2M66 608h2M60 602h2M62 598h2M60 614h2M74 600h2M66 604h2M60 608h2M64 614h2M50 604h2M56 604h2M66 610h2M64 604h2M62 604h2M64 600h2M68 604h2M66 602h2M66 606h2M58 604h2M70 610h2M60 606h2M68 598h2M68 606h2M56 594h2M74 602h2M70 612h2M70 604h2M64 606h2M64 616h2M70 600h2M58 600h2M66 598h2M56 616h2M60 604h2M54 600h2M60 610h2M50 598h2M62 602h2M56 606h2M70 606h2M62 612h2M64 624h2M58 610h2M60 618h2M72 594h2M74 618h2M80 616h2M52 618h2M68 620h2M66 620h2M76 614h2M48 602h2M48 604h2M54 614h2M62 622h2M72 608h2M72 612h2M68 626h2M54 612h2M76 604h2M66 614h2M60 600h2M58 602h2M72 614h2M68 614h2M72 604h2M70 626h2M78 602h2M72 618h2M74 628h2M64 610h2M74 616h2M64 630h2M58 630h2M60 636h2M60 632h2M56 622h2M74 624h2M76 640h2M58 632h2M60 626h2M72 630h2M56 644h2M60 622h2M60 642h2M68 640h2M60 630h2M60 656h2M60 648h2M46 634h2M62 630h2M58 620h2M50 634h2M56 632h2M60 628h2M56 648h2M54 628h2M54 640h2M132 680h2M144 686h2M132 670h2M132 694h2M124 694h2M122 668h2M126 670h2M130 668h2M126 660h2M126 688h2M124 680h2M132 668h2M120 678h2M128 676h2M120 690h2M120 676h2M126 684h2M124 670h2M136 670h2M130 676h2M124 678h2M112 678h2M126 668h2M124 700h2M136 684h2M134 674h2M122 684h2M120 670h2M134 664h2M126 680h2M128 664h2M124 674h2M136 688h2M122 686h2M124 676h2M118 672h2M132 692h2M136 674h2M130 656h2M124 666h2M130 662h2M120 668h2M128 686h2M122 694h2M128 678h2M130 682h2M138 688h2M122 670h2M112 684h2M124 690h2M122 678h2M130 686h2M128 668h2M138 686h2M134 694h2M134 682h2M128 684h2M118 686h2M120 682h2M120 684h2M124 702h2M128 682h2M122 676h2M126 676h2M130 674h2M122 682h2M124 664h2M132 690h2M122 674h2M130 664h2M132 674h2M128 660h2M126 682h2M124 668h2M140 672h2M136 662h2M136 696h2M122 672h2M134 692h2M116 670h2M124 696h2M128 692h2M132 684h2M116 676h2M126 692h2M130 684h2M120 674h2M124 684h2M130 698h2M128 670h2M126 672h2M126 678h2M130 678h2M134 678h2M132 676h2M128 688h2M130 690h2M134 668h2M126 666h2M126 698h2M140 674h2M120 694h2M122 662h2M116 694h2M136 680h2M140 694h2M142 694h2M128 656h2M118 688h2M108 666h2M118 678h2M118 682h2M120 646h2M138 658h2M132 700h2M130 670h2M126 662h2M122 706h2M120 688h2M128 694h2M122 664h2M148 680h2M132 682h2M136 702h2M126 696h2M128 698h2M134 690h2M124 672h2M126 658h2M136 666h2M122 652h2M134 684h2M126 694h2M126 652h2M116 674h2M134 702h2M140 642h2M114 706h2M146 686h2M132 688h2M134 686h2M120 698h2M106 680h2M142 662h2M118 670h2M128 658h2M128 672h2M132 664h2M120 664h2M126 664h2M118 680h2M134 670h2M146 680h2M118 676h2M140 690h2M124 650h2M110 684h2M136 632h2M138 672h2M126 656h2M126 706h2M134 658h2M124 662h2M116 668h2M132 580h2M156 654h2M52 674h2M52 670h2M50 656h2M62 656h2M68 656h2M72 658h2M84 656h2M88 596h2M128 644h2M144 648h2" stroke="#000" stroke-width="2" fill="none"/>
<rect x="306" y="546" width="200" height="166" fill="none" stroke="#000" stroke-width="2.1"/>
<path d="M378.5 546L378.5 712" stroke="#000" stroke-width="1.8" fill="none"/>
<path d="M306 662L506 662" stroke="#000" stroke-width="1.8" fill="none"/>
<path d="M308.0 713v8.7M322.8 713v5.3M331.4 713v5.3M337.5 713v5.3M342.2 713v5.3M346.1 713v5.3M349.4 713v5.3M352.3 713v5.3M354.8 713v5.3M357.0 713v8.7M371.8 713v5.3M380.4 713v5.3M386.5 713v5.3M391.2 713v5.3M395.1 713v5.3M398.4 713v5.3M401.3 713v5.3M403.8 713v5.3M406.0 713v8.7M420.8 713v5.3M429.4 713v5.3M435.5 713v5.3M440.2 713v5.3M444.1 713v5.3M447.4 713v5.3M450.3 713v5.3M452.8 713v5.3M455.0 713v8.7M469.8 713v5.3M478.4 713v5.3M484.5 713v5.3M489.2 713v5.3M493.1 713v5.3M496.4 713v5.3M499.3 713v5.3M501.8 713v5.3M504.0 713v8.7" stroke="#000" stroke-width="1.9" fill="none"/>
<path d="M305.5 712.0h-9M305.5 699.7h-6M305.5 692.4h-6M305.5 687.3h-6M305.5 683.3h-6M305.5 680.1h-6M305.5 677.4h-6M305.5 675.0h-6M305.5 672.9h-6M305.5 671.0h-9M305.5 658.7h-6M305.5 651.4h-6M305.5 646.3h-6M305.5 642.3h-6M305.5 639.1h-6M305.5 636.4h-6M305.5 634.0h-6M305.5 631.9h-6M305.5 630.0h-9M305.5 617.7h-6M305.5 610.4h-6M305.5 605.3h-6M305.5 601.3h-6M305.5 598.1h-6M305.5 595.4h-6M305.5 593.0h-6M305.5 590.9h-6M305.5 589.0h-9M305.5 576.7h-6M305.5 569.4h-6M305.5 564.3h-6M305.5 560.3h-6M305.5 557.1h-6M305.5 554.4h-6M305.5 552.0h-6M305.5 549.9h-6M305.5 548.0h-9" stroke="#000" stroke-width="1.9" fill="none"/>
<text x="303" y="535" font-size="31" font-weight="700">F</text>
<text x="366" y="748.7" font-size="17" font-weight="700" textLength="72.69999999999999" lengthAdjust="spacingAndGlyphs">CD34 PE</text>
<text transform="translate(294.4,741.3) scale(.8,1)" font-size="19.5" stroke="#000" stroke-width=".35">10</text>
<g><text transform="translate(313.4,731.3) scale(.78,1)" font-size="18.5" stroke="#000" stroke-width=".35">0</text></g>
<text transform="translate(490.7,740.9) scale(.8,1)" font-size="19.5" stroke="#000" stroke-width=".35">10</text>
<g><text transform="translate(509.9,730.9) scale(.78,1)" font-size="18.5" stroke="#000" stroke-width=".35">4</text></g>
<text transform="translate(292.5,678) rotate(-90)" font-size="17" font-weight="700" textLength="90.5" lengthAdjust="spacingAndGlyphs">CD71 FITC</text>
<text transform="translate(291.6,723.6) rotate(-90) scale(.8,1)" font-size="19.5" stroke="#000" stroke-width=".35">10</text>
<text transform="translate(281.3,703.6) rotate(-90) scale(.78,1)" font-size="18.5" stroke="#000" stroke-width=".35">0</text>
<text transform="translate(291.6,560.6) rotate(-90) scale(.8,1)" font-size="19.5" stroke="#000" stroke-width=".35">10</text>
<text transform="translate(281.3,539.9) rotate(-90) scale(.78,1)" font-size="18.5" stroke="#000" stroke-width=".35">4</text>
<path d="M461.2 550L461.2 595" stroke="#000" stroke-width="1.1" fill="none"/>
<path d="M424.5 572.5L498.7 572.5" stroke="#000" stroke-width="1.1" fill="none"/>
<text x="426" y="569.5" font-size="16" stroke="#000" stroke-width="0.35" textLength="25" lengthAdjust="spacingAndGlyphs">0.4</text>
<text x="469.5" y="569.5" font-size="16" stroke="#000" stroke-width="0.35" textLength="24.2" lengthAdjust="spacingAndGlyphs">0.4</text>
<text x="421" y="593" font-size="16" stroke="#000" stroke-width="0.35" textLength="35" lengthAdjust="spacingAndGlyphs">41.5</text>
<text x="465" y="593" font-size="16" stroke="#000" stroke-width="0.35" textLength="33.7" lengthAdjust="spacingAndGlyphs">57.7</text>
<path d="M340 692h2M338 690h2M334 692h2M334 698h2M342 692h2M338 684h2M334 700h2M332 694h2M340 690h2M334 690h2M338 692h2M342 696h2M336 702h2M334 688h2M328 688h2M332 696h2M332 690h2M336 696h2M336 692h2M332 692h2M336 690h2M334 684h2M342 690h2M326 698h2M334 694h2M340 686h2M340 702h2M334 686h2M328 686h2M336 686h2M334 696h2M330 690h2M338 688h2M328 698h2M344 682h2M338 694h2M332 688h2M346 694h2M336 700h2M340 694h2M340 696h2M332 686h2M344 694h2M330 688h2M318 688h2M338 686h2M326 690h2M330 686h2M324 690h2M348 684h2M342 680h2M356 690h2M344 688h2M322 678h2M324 700h2M342 684h2M350 700h2M330 694h2M324 692h2M356 682h2M344 696h2M348 696h2M336 684h2M358 692h2M340 676h2M336 694h2M354 688h2M344 690h2M336 688h2M356 688h2M346 680h2M342 694h2M352 692h2M344 692h2M350 702h2M340 688h2M342 682h2M338 682h2M348 682h2M348 698h2M350 692h2M338 702h2M336 680h2M330 682h2M358 690h2M346 686h2M324 688h2M352 686h2M322 688h2M338 676h2M320 694h2M338 678h2M352 688h2M322 698h2M330 680h2M324 686h2M362 706h2M334 680h2M322 690h2M326 678h2M354 696h2M352 690h2M326 694h2M342 688h2M354 700h2M348 688h2M332 676h2M316 684h2M350 690h2M336 698h2M350 696h2M314 684h2M328 694h2M330 696h2M348 694h2M328 696h2M344 698h2M346 690h2M362 686h2M324 682h2M350 688h2M364 680h2M370 692h2M350 682h2M366 696h2M368 688h2M370 674h2M364 690h2M360 692h2M368 686h2M368 684h2M376 680h2M358 682h2M362 698h2M372 692h2M356 694h2M382 684h2M366 700h2M372 684h2M368 694h2M366 690h2M370 688h2M362 694h2M348 678h2M374 690h2M360 690h2M348 706h2M352 700h2M366 678h2M364 686h2M362 690h2M380 684h2M352 694h2M372 696h2M362 688h2M364 696h2M366 688h2M360 700h2M368 690h2M372 694h2M378 678h2M366 692h2M360 680h2M378 694h2M362 682h2M384 684h2M366 698h2M352 684h2M356 698h2M364 688h2M360 682h2M368 680h2M372 686h2M364 684h2M376 698h2M362 692h2M360 694h2M370 682h2M360 678h2M354 692h2M364 676h2M358 698h2M356 678h2M348 708h2M360 684h2M362 676h2M372 700h2M354 694h2M358 680h2M372 690h2M360 688h2M382 692h2M354 676h2M372 698h2M352 702h2M366 672h2M346 688h2M374 704h2M416 686h2M426 686h2M420 690h2M446 694h2M420 682h2M434 686h2M422 692h2M432 692h2M426 694h2M424 680h2M428 678h2M438 690h2M434 684h2M432 682h2M428 686h2M432 680h2M420 688h2M424 688h2M424 678h2M434 688h2M426 692h2M416 696h2M432 686h2M428 690h2M422 688h2M420 676h2M430 686h2M432 690h2M434 690h2M420 692h2M448 682h2M418 690h2M434 692h2M440 678h2M430 688h2M438 682h2M428 684h2M426 676h2M426 666h2M422 682h2M422 694h2M436 684h2M432 704h2M424 694h2M436 686h2M416 690h2M440 684h2M424 676h2M444 680h2M420 684h2M438 686h2M420 694h2M422 678h2M424 686h2M434 678h2M418 686h2M430 680h2M420 686h2M426 678h2M416 694h2M440 682h2M422 690h2M438 688h2M436 682h2M440 686h2M438 678h2M428 682h2M408 690h2M414 676h2M432 684h2M428 680h2M424 682h2M412 672h2M420 678h2M434 682h2M424 690h2M416 692h2M448 692h2M430 674h2M430 690h2M434 680h2M418 688h2M426 690h2M428 676h2M418 682h2M412 682h2M448 686h2M442 680h2M416 682h2M438 694h2M426 684h2M444 692h2M426 682h2M426 688h2M420 674h2M422 680h2M440 680h2M410 690h2M432 696h2M414 686h2M436 690h2M414 688h2M410 694h2M418 684h2M414 690h2M428 692h2M442 688h2M416 678h2M428 688h2M432 688h2M422 686h2M434 694h2M446 692h2M424 674h2M416 698h2M426 680h2M424 698h2M430 684h2M430 678h2M424 696h2M408 692h2M436 688h2M440 692h2M406 696h2M416 680h2M432 676h2M418 678h2M440 696h2M422 698h2M410 686h2M422 696h2M442 682h2M418 692h2M446 684h2M436 692h2M432 694h2M450 676h2M416 672h2M436 674h2M432 698h2M414 682h2M436 676h2M428 694h2M444 696h2M450 662h2M438 696h2M444 700h2M432 674h2M420 696h2M408 684h2M420 700h2M438 698h2M428 666h2M428 698h2M450 682h2M432 678h2M442 690h2M420 680h2M440 700h2M442 674h2M456 682h2M402 702h2M430 682h2M422 670h2M422 704h2M418 694h2M420 698h2M406 678h2M420 668h2M440 694h2M426 700h2M422 668h2M430 700h2M406 690h2M450 692h2M436 696h2M436 698h2M424 684h2M430 692h2M414 680h2M406 692h2M430 676h2M444 690h2M426 696h2M436 680h2M434 676h2M438 674h2M408 700h2M442 678h2M440 688h2M418 696h2M438 680h2M364 652h2M380 656h2M408 658h2M436 660h2M456 658h2M396 686h2M398 696h2M454 690h2M372 656h2" stroke="#000" stroke-width="2" fill="none"/>
<path d="M33.8 242.2L513.6 242.2" stroke="#000" stroke-width="2.1" fill="none"/>
<path d="M33.8 772.2L513.6 772.2" stroke="#000" stroke-width="2.1" fill="none"/>
<path d="M75 1297.5V830H241.3V1297.5M64 1286H241.3" stroke="#000" stroke-width="2.2" fill="none"/>
<text x="56.2" y="1291.9" font-size="23.5" stroke="#000" stroke-width="0.35" text-anchor="end">0</text>
<text x="56.2" y="1253.9" font-size="23.5" stroke="#000" stroke-width="0.35" text-anchor="end">5</text>
<text x="56.2" y="1215.9" font-size="23.5" stroke="#000" stroke-width="0.35" text-anchor="end">10</text>
<text x="56.2" y="1177.9" font-size="23.5" stroke="#000" stroke-width="0.35" text-anchor="end">15</text>
<text x="56.2" y="1139.9" font-size="23.5" stroke="#000" stroke-width="0.35" text-anchor="end">20</text>
<text x="56.2" y="1101.9" font-size="23.5" stroke="#000" stroke-width="0.35" text-anchor="end">25</text>
<text x="56.2" y="1063.9" font-size="23.5" stroke="#000" stroke-width="0.35" text-anchor="end">30</text>
<text x="56.2" y="1025.9" font-size="23.5" stroke="#000" stroke-width="0.35" text-anchor="end">35</text>
<text x="56.2" y="987.9" font-size="23.5" stroke="#000" stroke-width="0.35" text-anchor="end">40</text>
<text x="56.2" y="949.9" font-size="23.5" stroke="#000" stroke-width="0.35" text-anchor="end">45</text>
<text x="56.2" y="911.9" font-size="23.5" stroke="#000" stroke-width="0.35" text-anchor="end">50</text>
<text x="56.2" y="873.9" font-size="23.5" stroke="#000" stroke-width="0.35" text-anchor="end">55</text>
<text x="56.2" y="835.9" font-size="23.5" stroke="#000" stroke-width="0.35" text-anchor="end">60</text>
<path d="M75 1286.0h-11M75 1278.4h-5.8M75 1270.8h-5.8M75 1263.2h-5.8M75 1255.6h-5.8M75 1248.0h-11M75 1240.4h-5.8M75 1232.8h-5.8M75 1225.2h-5.8M75 1217.6h-5.8M75 1210.0h-11M75 1202.4h-5.8M75 1194.8h-5.8M75 1187.2h-5.8M75 1179.6h-5.8M75 1172.0h-11M75 1164.4h-5.8M75 1156.8h-5.8M75 1149.2h-5.8M75 1141.6h-5.8M75 1134.0h-11M75 1126.4h-5.8M75 1118.8h-5.8M75 1111.2h-5.8M75 1103.6h-5.8M75 1096.0h-11M75 1088.4h-5.8M75 1080.8h-5.8M75 1073.2h-5.8M75 1065.6h-5.8M75 1058.0h-11M75 1050.4h-5.8M75 1042.8h-5.8M75 1035.2h-5.8M75 1027.6h-5.8M75 1020.0h-11M75 1012.4h-5.8M75 1004.8h-5.8M75 997.2h-5.8M75 989.6h-5.8M75 982.0h-11M75 974.4h-5.8M75 966.8h-5.8M75 959.2h-5.8M75 951.6h-5.8M75 944.0h-11M75 936.4h-5.8M75 928.8h-5.8M75 921.2h-5.8M75 913.6h-5.8M75 906.0h-11M75 898.4h-5.8M75 890.8h-5.8M75 883.2h-5.8M75 875.6h-5.8M75 868.0h-11M75 860.4h-5.8M75 852.8h-5.8M75 845.2h-5.8M75 837.6h-5.8M75 830.0h-11" stroke="#000" stroke-width="2" fill="none"/>
<rect x="88.5" y="1284.5" width="28.5" height="1.5" fill="#000" stroke="#000" stroke-width="0"/>
<path d="M131.7 1096.0V947.8M125 947.8H138.5" stroke="#000" stroke-width="1.6" fill="none"/>
<rect x="117.6" y="1096.0" width="28.7" height="190.0" fill="url(#p1)" stroke="#000" stroke-width="1.9"/>
<path d="M161.5 1245.7V1216.8M155 1216.8H168" stroke="#000" stroke-width="1.6" fill="none"/>
<rect x="146.3" y="1245.7" width="27.2" height="40.3" fill="url(#p3)" stroke="#000" stroke-width="1.9"/>
<path d="M185.3 1134.0V1033.7M178.7 1033.7H191.7" stroke="#000" stroke-width="1.6" fill="none"/>
<rect x="173.5" y="1134.0" width="27.0" height="152.0" fill="url(#p2)" stroke="#000" stroke-width="1.9"/>
<path d="M214.5 1281.1V1272.8M210.5 1272.8H218.5" stroke="#000" stroke-width="1.6" fill="none"/>
<rect x="200.5" y="1281.1" width="27.2" height="4.9" fill="#fff" stroke="#000" stroke-width="1.9"/>
<text x="72" y="810.5" font-size="31" font-weight="700">G</text>
<text transform="translate(18.9,1177.8) rotate(-90)" font-size="23" font-weight="700" textLength="253.0999999999999" lengthAdjust="spacingAndGlyphs">Colonies per 100 cells</text>
<text transform="translate(109.5,1340.5) rotate(-90)" font-size="16.5" font-weight="700" textLength="35.8" lengthAdjust="spacingAndGlyphs">UCB</text>
<text transform="translate(136,1379) rotate(-90)" font-size="16.5" font-weight="700" textLength="74.3" lengthAdjust="spacingAndGlyphs">Lin- UCB</text>
<text transform="translate(165.5,1362) rotate(-90)" font-size="16.5" font-weight="700" textLength="57.3" lengthAdjust="spacingAndGlyphs">Lin- SP</text>
<text transform="translate(193,1424.6) rotate(-90)" font-size="16.5" font-weight="700" textLength="119.9" lengthAdjust="spacingAndGlyphs">CD34+ Lin- SP</text>
<text transform="translate(222,1420) rotate(-90)" font-size="16.5" font-weight="700" textLength="115.3" lengthAdjust="spacingAndGlyphs">CD34- Lin- SP</text>
<text transform="translate(109.2,1268.7) rotate(-90)" font-size="16" stroke="#000" stroke-width="0.35" textLength="139.2" lengthAdjust="spacingAndGlyphs">0.3 ± 0.2 colonies</text>
<text transform="translate(219.8,1272) rotate(-90)" font-size="16" stroke="#000" stroke-width="0.35" textLength="149" lengthAdjust="spacingAndGlyphs">0.64 ± 1.1 colonies</text>
<path d="M343.7 1297.5V831H511V1297.5M332.7 1286H511" stroke="#000" stroke-width="2.2" fill="none"/>
<text x="323.4" y="1291.2" font-size="23.5" stroke="#000" stroke-width="0.35" text-anchor="end">0</text>
<text x="323.4" y="1245.7" font-size="23.5" stroke="#000" stroke-width="0.35" text-anchor="end">20</text>
<text x="323.4" y="1200.2" font-size="23.5" stroke="#000" stroke-width="0.35" text-anchor="end">40</text>
<text x="323.4" y="1154.7" font-size="23.5" stroke="#000" stroke-width="0.35" text-anchor="end">60</text>
<text x="323.4" y="1109.2" font-size="23.5" stroke="#000" stroke-width="0.35" text-anchor="end">80</text>
<text x="323.4" y="1063.7" font-size="23.5" stroke="#000" stroke-width="0.35" text-anchor="end">100</text>
<text x="323.4" y="1018.2" font-size="23.5" stroke="#000" stroke-width="0.35" text-anchor="end">120</text>
<text x="323.4" y="972.7" font-size="23.5" stroke="#000" stroke-width="0.35" text-anchor="end">140</text>
<text x="323.4" y="927.2" font-size="23.5" stroke="#000" stroke-width="0.35" text-anchor="end">160</text>
<text x="323.4" y="881.7" font-size="23.5" stroke="#000" stroke-width="0.35" text-anchor="end">180</text>
<text x="323.4" y="836.2" font-size="23.5" stroke="#000" stroke-width="0.35" text-anchor="end">200</text>
<path d="M343.7 1286.0h-11M343.7 1274.6h-5.8M343.7 1263.2h-5.8M343.7 1251.9h-5.8M343.7 1240.5h-11M343.7 1229.1h-5.8M343.7 1217.8h-5.8M343.7 1206.4h-5.8M343.7 1195.0h-11M343.7 1183.6h-5.8M343.7 1172.2h-5.8M343.7 1160.9h-5.8M343.7 1149.5h-11M343.7 1138.1h-5.8M343.7 1126.8h-5.8M343.7 1115.4h-5.8M343.7 1104.0h-11M343.7 1092.6h-5.8M343.7 1081.2h-5.8M343.7 1069.9h-5.8M343.7 1058.5h-11M343.7 1047.1h-5.8M343.7 1035.8h-5.8M343.7 1024.4h-5.8M343.7 1013.0h-11M343.7 1001.6h-5.8M343.7 990.2h-5.8M343.7 978.9h-5.8M343.7 967.5h-11M343.7 956.1h-5.8M343.7 944.8h-5.8M343.7 933.4h-5.8M343.7 922.0h-11M343.7 910.6h-5.8M343.7 899.2h-5.8M343.7 887.9h-5.8M343.7 876.5h-11M343.7 865.1h-5.8M343.7 853.8h-5.8M343.7 842.4h-5.8M343.7 831.0h-11" stroke="#000" stroke-width="2" fill="none"/>
<path d="M399 1042.6V915.2M394 915.2H407.5" stroke="#000" stroke-width="1.6" fill="none"/>
<rect x="385.7" y="1042.6" width="29.0" height="243.4" fill="url(#p1)" stroke="#000" stroke-width="1.9"/>
<path d="M427.5 1171.1V1090.3M421 1090.3H435" stroke="#000" stroke-width="1.6" fill="none"/>
<rect x="414.7" y="1171.1" width="26.8" height="114.9" fill="url(#p4)" stroke="#000" stroke-width="1.9"/>
<path d="M456 1050.5V963.0M450.5 963.0H464.5" stroke="#000" stroke-width="1.6" fill="none"/>
<rect x="441.5" y="1050.5" width="27.3" height="235.5" fill="url(#p2)" stroke="#000" stroke-width="1.9"/>
<text x="340" y="810.5" font-size="31" font-weight="700">H</text>
<text transform="translate(277,1189.5) rotate(-90)" font-size="23" font-weight="700" textLength="268" lengthAdjust="spacingAndGlyphs">Colonies per 1000 cells</text>
<text transform="translate(376.8,1340.5) rotate(-90)" font-size="16.5" font-weight="700" textLength="37.7" lengthAdjust="spacingAndGlyphs">UCB</text>
<text transform="translate(404.8,1379) rotate(-90)" font-size="16.5" font-weight="700" textLength="76.2" lengthAdjust="spacingAndGlyphs">Lin- UCB</text>
<text transform="translate(433.7,1362.5) rotate(-90)" font-size="16.5" font-weight="700" textLength="59.7" lengthAdjust="spacingAndGlyphs">Lin- SP</text>
<text transform="translate(461,1424.8) rotate(-90)" font-size="16.5" font-weight="700" textLength="122.0" lengthAdjust="spacingAndGlyphs">CD34+ Lin- SP</text>
<text transform="translate(491.5,1421.5) rotate(-90)" font-size="16.5" font-weight="700" textLength="118.7" lengthAdjust="spacingAndGlyphs">CD34- Lin- SP</text>
<text transform="translate(377.7,1268) rotate(-90)" font-size="16" stroke="#000" stroke-width="0.35" textLength="140.3" lengthAdjust="spacingAndGlyphs">0.4 ± 0.2 colonies</text>
</g>
</svg>
</body></html>
